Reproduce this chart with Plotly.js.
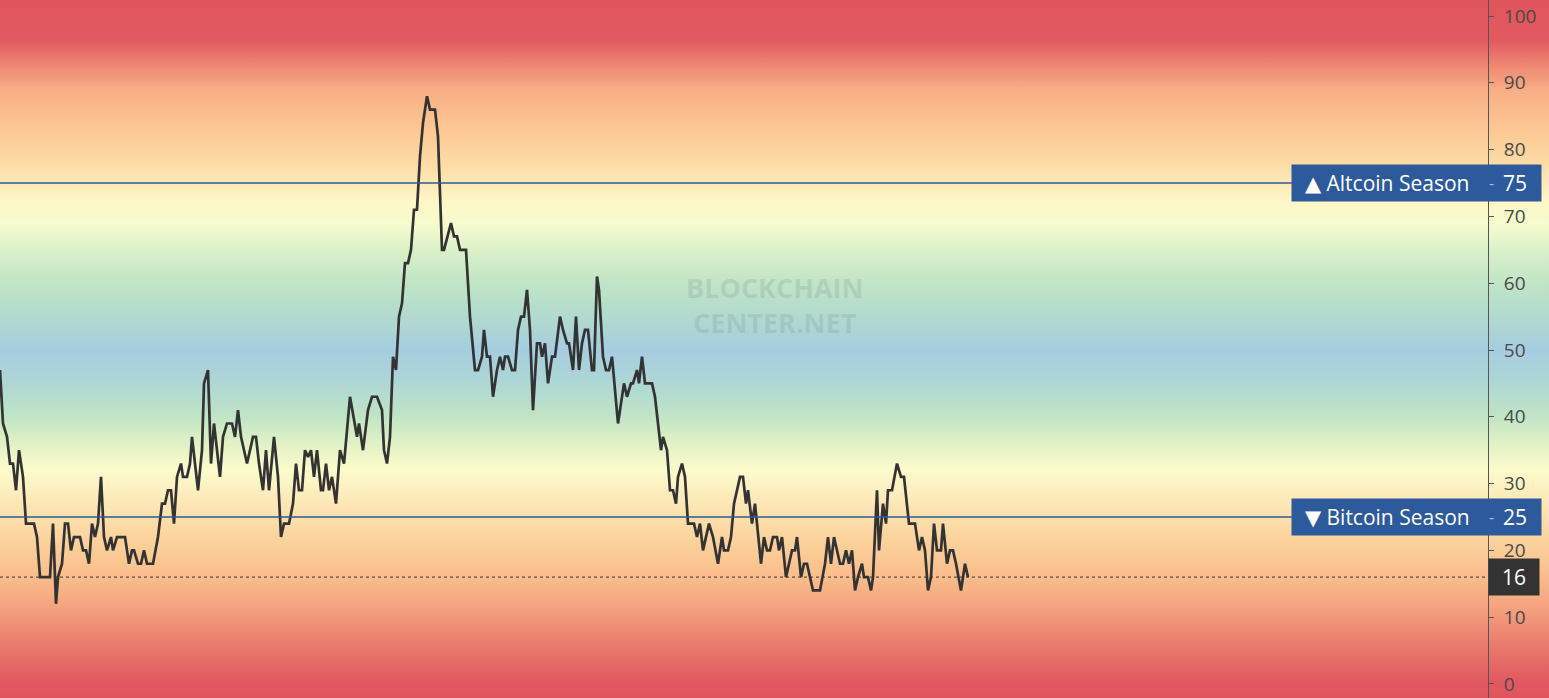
<!DOCTYPE html>
<html>
<head>
<meta charset="utf-8">
<script src="https://cdn.plot.ly/plotly-3.0.1.min.js"></script>
<style>
  html, body { margin:0; padding:0; width:1549px; height:698px; overflow:hidden; }
  body {
    background: linear-gradient(to bottom,
      #e0555c 0px, #e15a5f 40px, #ee8672 65px, #f8ae85 90px, #fcc893 130px,
      #fddca6 165px, #fef6c6 200px, #f6fbcd 225px, #d6efc8 255px, #bfe4c6 285px,
      #b0d9d0 320px, #a6cde0 350px, #acd6d6 380px, #bfe4c5 415px, #e2f2c6 445px,
      #fcfbcb 470px, #fde9b8 500px, #fcd29c 540px, #fabe8b 575px, #f4a07d 610px,
      #ea7b6c 645px, #e15a5f 680px, #e0555c 698px);
  }
  #chart { width:1549px; height:698px; }
</style>
</head>
<body>
<div id="chart"></div>
<script>
// day position (chart order) and Altcoin Season Index value
const t = [0,3,7,10,13,16,19,23,26,34,37,40,50,53,56,58,62,65,68,71,74,80,83,86,89,92,95,98,101,104,107,111,113,117,125,129,132,134,138,141,144,147,153,158,162,165,168,171,174,177,181,183,187,190,192,198,202,204,208,211,214,217,220,223,227,232,235,238,241,247,253,256,259,263,266,269,274,278,281,284,289,293,296,299,302,305,308,311,314,317,321,323,326,329,332,336,340,344,350,357,359,363,368,372,377,382,384,387,390,393,396,399,402,405,408,411,414,417,420,423,427,430,435,438,442,444,451,454,457,460,466,470,475,478,482,484,487,490,493,497,500,503,505,508,512,515,518,521,524,527,530,533,537,540,542,545,548,552,555,560,563,567,569,573,576,579,582,585,588,592,594,597,599,603,606,609,612,618,624,627,631,633,637,639,642,645,652,655,661,663,667,670,673,676,678,682,685,688,694,697,700,703,709,713,718,722,724,728,731,734,740,743,746,748,752,755,758,761,764,767,770,773,777,779,782,786,789,792,795,797,801,804,807,813,820,825,828,831,834,840,843,846,849,852,855,858,862,864,868,871,873,877,879,883,886,888,892,897,901,904,909,915,919,922,925,928,931,934,937,941,943,947,950,953,956,961,965,968];
const v = [47,39,37,33,33,29,35,31,24,24,22,16,16,24,12,16,18,24,24,20,22,22,20,20,18,24,22,24,31,22,20,22,20,22,22,18,20,20,18,18,20,18,18,22,27,27,29,29,24,31,33,31,31,33,37,29,35,45,47,33,39,35,31,37,39,39,37,41,37,33,37,37,33,29,35,29,37,31,22,24,24,27,33,29,29,35,34,35,31,35,29,29,33,29,31,27,35,33,43,37,39,35,41,43,43,41,35,33,37,49,47,55,57,63,63,65,71,71,79,84,88,86,86,82,65,65,69,67,67,65,65,55,47,47,49,53,49,49,43,47,49,47,49,49,47,47,53,55,55,59,53,41,51,51,49,51,45,49,49,55,53,51,51,47,55,47,51,53,53,47,47,61,59,49,47,47,49,39,45,43,45,45,47,45,49,45,45,43,35,37,35,29,29,27,31,33,31,24,24,22,24,20,24,22,18,22,20,20,22,27,31,31,27,29,24,27,22,18,22,20,20,22,22,20,22,16,18,20,20,22,16,18,18,14,14,18,22,18,22,18,18,20,18,20,14,16,18,16,16,14,16,29,20,27,24,29,29,33,31,31,24,24,20,22,20,14,16,24,20,20,24,18,20,20,18,14,18,16];

const yTicks = [0,10,20,30,40,50,60,70,80,90,100];
const altLevel = 75, btcLevel = 25;
const current = v[v.length-1];
const xMax = 1488;

const lineColor = '#2f5993';
const boxColor = '#2d5a9b';
const fam = 'Open Sans, DejaVu Sans, sans-serif';

const data = [{
  type:'scatter', mode:'lines', x:t, y:v,
  line:{color:'#333333', width:2.7}, hoverinfo:'skip'
}];

function seasonLabels(level, label) {
  return [
    {xref:'paper', yref:'y', x:1291/xMax, y:level, xanchor:'left', yanchor:'middle', showarrow:false,
     width:245, height:32, bgcolor:boxColor, align:'left', borderpad:2,
     text:'  ' + label, font:{family:fam, size:21, color:'#ffffff'}},
    {xref:'paper', yref:'y', x:1491/xMax, y:level, xanchor:'center', yanchor:'middle', showarrow:false,
     text:'-', font:{family:fam, size:16, color:'rgba(210,220,240,0.8)'}},
    {xref:'paper', yref:'y', x:1515/xMax, y:level, xanchor:'center', yanchor:'middle', showarrow:false,
     text:String(level), font:{family:fam, size:21, color:'#ffffff'}}
  ];
}

const layout = {
  width:1549, height:698,
  margin:{l:0, r:61, t:0, b:0, pad:0},
  paper_bgcolor:'rgba(0,0,0,0)', plot_bgcolor:'rgba(0,0,0,0)',
  showlegend:false,
  xaxis:{range:[0,xMax], visible:false, fixedrange:true},
  yaxis:{
    side:'right', range:[-2.1,102.4], tickvals:yTicks, ticktext:yTicks.map(String),
    showgrid:false, zeroline:false, showline:true, linecolor:'#555', linewidth:1,
    ticks:'outside', ticklen:5, tickcolor:'#555', tickwidth:1,
    tickfont:{family:fam, size:19, color:'#4a4a4a'},
    ticklabelstandoff:6, fixedrange:true
  },
  shapes:[
    {type:'line', xref:'paper', yref:'y', x0:0, x1:1, y0:altLevel, y1:altLevel, line:{color:lineColor, width:1.6}},
    {type:'line', xref:'paper', yref:'y', x0:0, x1:1, y0:btcLevel, y1:btcLevel, line:{color:lineColor, width:1.6}},
    {type:'line', xref:'paper', yref:'y', x0:0, x1:1, y0:current, y1:current, line:{color:'#333', width:1, dash:'dot'}}
  ],
  annotations:[
    {xref:'paper', yref:'paper', x:0.5205, y:0.563, xanchor:'center', yanchor:'middle', showarrow:false,
     text:'<b>BLOCKCHAIN</b><br><b>CENTER.NET</b>', font:{family:fam, size:27, color:'rgba(120,140,140,0.22)'}},
    ...seasonLabels(altLevel, '▲ Altcoin Season'),
    ...seasonLabels(btcLevel, '▼ Bitcoin Season'),
    {xref:'paper', yref:'y', x:1, y:current, xanchor:'left', yanchor:'middle', showarrow:false,
     width:46, height:32, bgcolor:'#333333', align:'center', borderpad:2,
     text:String(current), font:{family:fam, size:21, color:'#ffffff'}}
  ]
};

Plotly.newPlot('chart', data, layout, {displayModeBar:false, staticPlot:true});
</script>
</body>
</html>
